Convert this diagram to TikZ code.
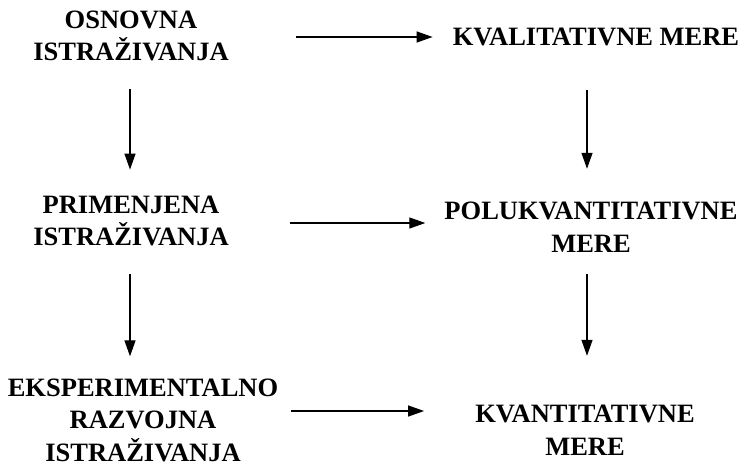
\documentclass[tikz,border=0pt]{standalone}
\usepackage{fontspec}
\setmainfont{Liberation Serif}
\usetikzlibrary{arrows.meta,calc}
\begin{document}
\begin{tikzpicture}[x=1pt,y=-1pt,
  lbl/.style={align=center,inner sep=0pt,font=\bfseries\fontsize{26.5}{32.5}\selectfont},
  arr/.style={line width=1.3pt,-{Triangle[length=16pt,width=11pt]}}]
\useasboundingbox (0,0) rectangle (743,471);
% left column
\node[lbl] (osn) at (131,36) {OSNOVNA\\ISTRAŽIVANJA};
\node[lbl] (pri) at (131,221) {PRIMENJENA\\ISTRAŽIVANJA};
\node[lbl] (eks) at (143,420) {EKSPERIMENTALNO\\RAZVOJNA\\ISTRAŽIVANJA};
% right column
\node[lbl] (kval) at (596,37) {KVALITATIVNE MERE};
\node[lbl] (polu) at (591,227) {POLUKVANTITATIVNE\\MERE};
\node[lbl] (kvan) at (585,430) {KVANTITATIVNE\\MERE};
% horizontal arrows
\draw[arr] ($(osn.east |- kval.west)+(67,0)$) -- ($(kval.west)+(-20,0)$);
\draw[arr] ($(pri.east)+(61,2)$) -- ($(polu.west |- pri.east)+(-19,2)$);
\draw[arr] ($(eks.east)+(13,-9)$) -- ($(kvan.west |- eks.east)+(-51,-9)$);
% vertical arrows
\draw[arr] ($(osn.south)+(-1,28)$) -- ($(osn.south |- pri.north)+(-1,-26)$);
\draw[arr] ($(pri.south)+(-1,28)$) -- ($(pri.south |- eks.north)+(-1,-22)$);
\draw[arr] ($(kval.south)+(-9,44)$) -- ($(kval.south |- polu.north)+(-9,-33)$);
\draw[arr] ($(polu.south)+(-4,22)$) -- ($(polu.south |- kvan.north)+(-4,-49)$);
\end{tikzpicture}
\end{document}
